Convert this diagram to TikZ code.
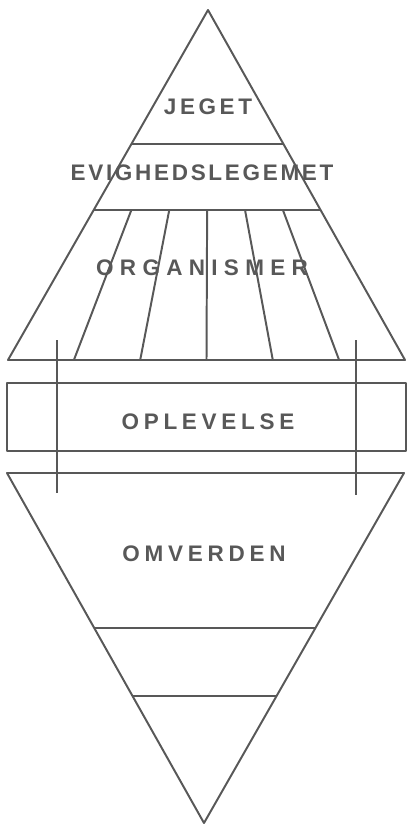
\documentclass[tikz,border=0pt]{standalone}
\usepackage{fontspec}
\setmainfont{Liberation Sans}
\usetikzlibrary{calc}
\definecolor{ink}{HTML}{585858}
\tikzset{
	tag/.style={text=ink, inner sep=0pt, font=\bfseries\fontsize{16}{16}\selectfont\addfontfeature{LetterSpace=#1}},
	stroke/.style={draw=ink, line width=1.4pt, line join=round}
}
\begin{document}
\begin{tikzpicture}[x=0.025cm, y=-0.025cm]
		\useasboundingbox (0,0) rectangle (411,836);
		%%%%% UPPER TRIANGLE %%%%%
		\coordinate (upApex) at (208,10);
		\coordinate (upLeft) at (8,360);
		\coordinate (upRight) at (405,360);
		\draw[stroke] (upApex) -- (upRight) -- (upLeft) -- cycle;
		
		\draw[stroke] ($(upApex)!0.383!(upLeft)$) -- ($(upApex)!0.383!(upRight)$);
		\coordinate (orgL) at ($(upApex)!0.571!(upLeft)$);
		\coordinate (orgR) at ($(upApex)!0.571!(upRight)$);
		\draw[stroke] (orgL) -- (orgR);
		
		\foreach \f in {0.166,0.333,0.5,0.667,0.834}
			\draw[stroke] ($(orgL)!\f!(orgR)$) -- ($(upLeft)!\f!(upRight)$);
		
		\node[tag=16] (jeget) at (208,107) {JEGET};
		\node[tag=12] (evighed) at (202,173) {EVIGHEDSLEGEMET};
		\node[tag=28] (organ) at (202,268) {ORGANISMER};
		
		%%%%% MIDDLE BAND %%%%%
		\draw[stroke] (7,383) rectangle (406,451);
		\node[tag=21] (oplev) at (208,422) {OPLEVELSE};
		
		\draw[stroke] (57,340) -- (57,493);
		\draw[stroke] (356,340) -- (356,495);
		
		%%%%% LOWER TRIANGLE %%%%%
		\coordinate (lowLeft) at (7,473);
		\coordinate (lowRight) at (404,473);
		\coordinate (lowApex) at (204,823);
		\draw[stroke] (lowLeft) -- (lowRight) -- (lowApex) -- cycle;
		
		\draw[stroke] ($(lowLeft)!0.443!(lowApex)$) -- ($(lowRight)!0.443!(lowApex)$);
		\draw[stroke] ($(lowLeft)!0.637!(lowApex)$) -- ($(lowRight)!0.637!(lowApex)$);
		
		\node[tag=21] (omverd) at (204,554) {OMVERDEN};
		%%%%% END %%%%%
\end{tikzpicture}
\end{document}
